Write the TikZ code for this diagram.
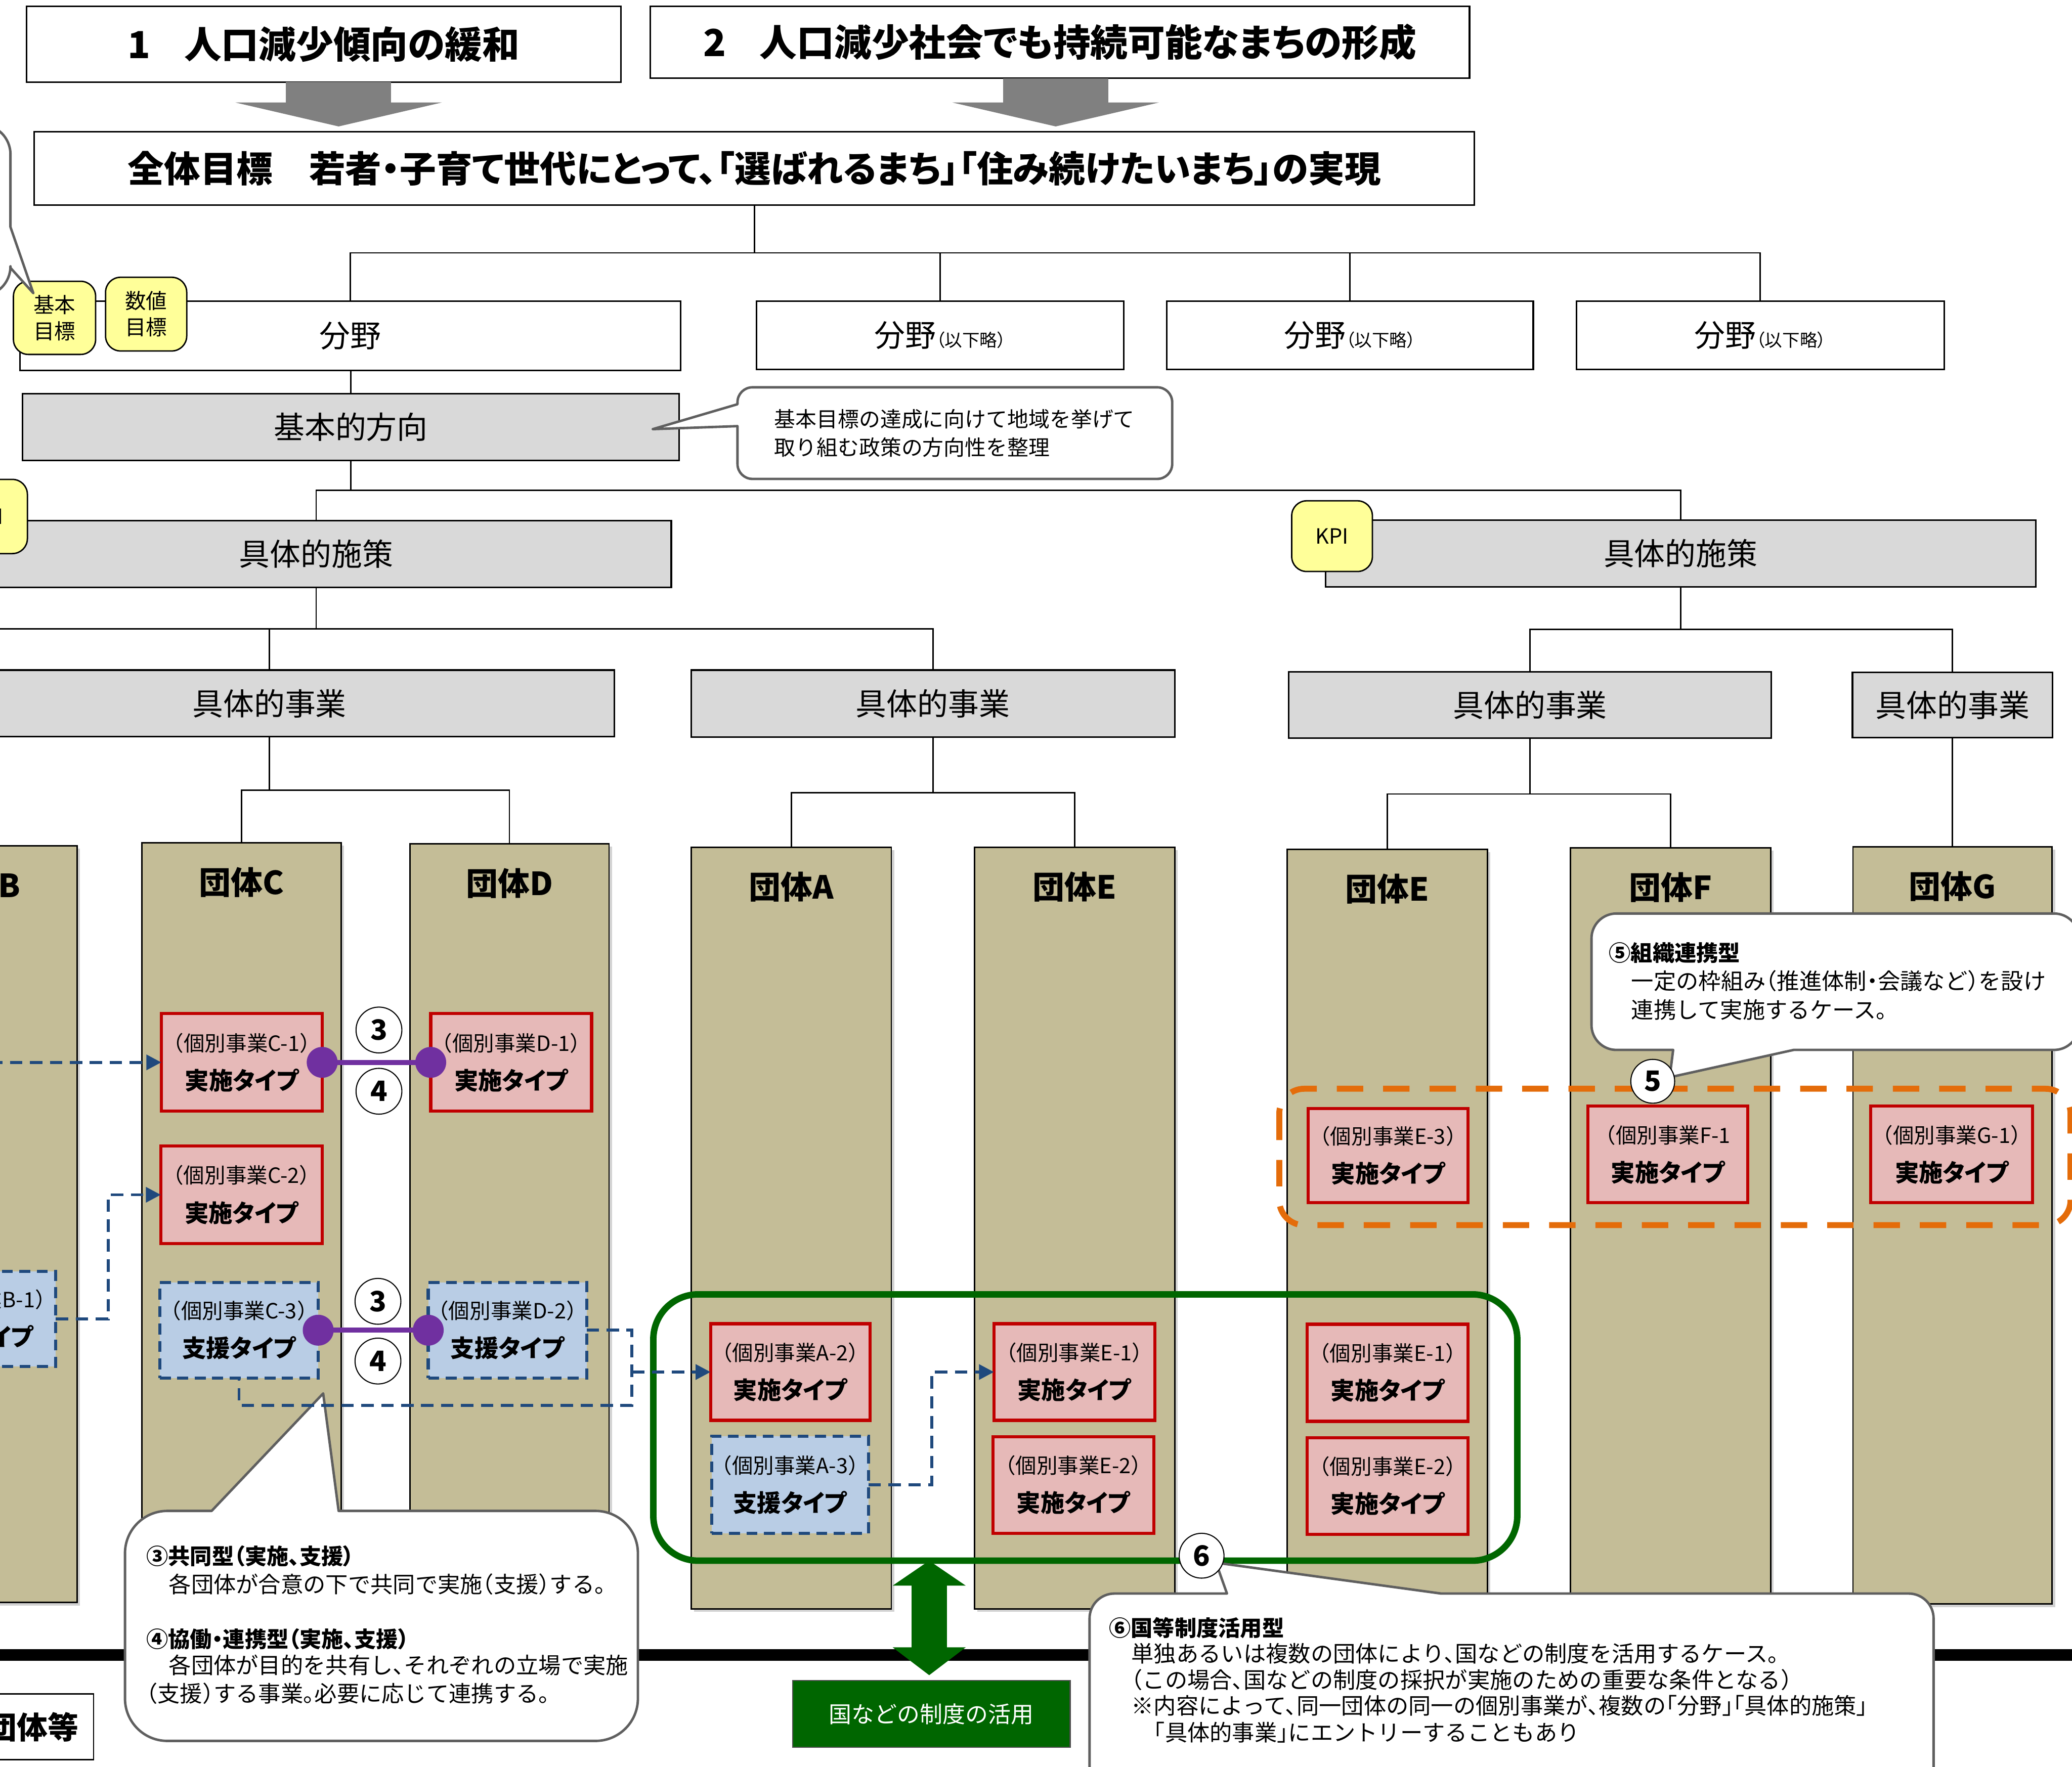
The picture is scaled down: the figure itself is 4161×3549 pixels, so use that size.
\documentclass[tikz,border=0pt]{standalone}
\usepackage{fontspec}
\setmainfont{Noto Sans CJK JP}
\newfontfamily\jpp{Noto Sans CJK JP}[RawFeature=+palt]
\newfontfamily\jph{Noto Sans CJK JP}[RawFeature=+halt]
\usetikzlibrary{arrows.meta,shadows}
\definecolor{tanc}{HTML}{C4BD97}
\definecolor{boxgray}{HTML}{D9D9D9}
\definecolor{tagyel}{HTML}{FFFF99}
\definecolor{pinkf}{HTML}{E6B9B8}
\definecolor{redb}{HTML}{C00000}
\definecolor{bluef}{HTML}{B9CDE5}
\definecolor{navyb}{HTML}{1F497D}
\definecolor{purp}{HTML}{7030A0}
\definecolor{orng}{HTML}{E46C0A}
\definecolor{dgreen}{HTML}{006600}
\definecolor{coline}{HTML}{5F5F5F}
\definecolor{arrgray}{HTML}{808080}
\newcommand{\mybox}[7]{\node[#1, minimum width={((#5)-(#3))*0.01cm}, minimum height={((#6)-(#4))*0.01cm}] (#2) at ({((#3)+(#5))/2},{((#4)+(#6))/2}) {#7};}
\newcommand{\pbody}[2]{{\jph\fontsize{12}{22}\selectfont #1}\\{\jpp\bfseries\fontsize{13.7}{22}\selectfont #2}}
\tikzset{
  every node/.style={inner sep=0pt, outer sep=0pt},
  tline/.style={line width=0.8pt, draw=black},
  titlebox/.style={draw, line width=0.9pt, fill=white, font=\jpp\bfseries\fontsize{21.3}{24}\selectfont},
  whitebox/.style={draw, line width=0.9pt, fill=white, font=\jpp\fontsize{17.6}{20}\selectfont},
  graybox/.style={draw, line width=0.9pt, fill=boxgray, font=\jpp\fontsize{17.6}{20}\selectfont},
  col/.style={draw, line width=0.8pt, fill=tanc, drop shadow={shadow xshift=0.6mm, shadow yshift=-0.6mm, opacity=0.35}},
  coltitle/.style={font=\jpp\bfseries\fontsize{18.2}{20}\selectfont},
  impl/.style={draw=redb, line width=1.8pt, fill=pinkf, align=center, font=\fontsize{12}{22}\selectfont},
  supp/.style={draw=navyb, line width=1.8pt, dash pattern=on 0.22cm off 0.13cm, fill=bluef, align=center, font=\fontsize{12}{22}\selectfont},
  tag/.style={draw, line width=0.8pt, fill=tagyel, rounded corners=0.3cm, align=center, font=\fontsize{12}{15}\selectfont},
  num/.style={circle, draw, line width=0.6pt, fill=white, minimum size=0.92cm, font=\bfseries\fontsize{16}{16}\selectfont},
  bd/.style={draw=navyb, line width=1.7pt, dash pattern=on 0.25cm off 0.15cm},
  btip/.style={-{Triangle[length=0.3cm,width=0.3cm]}},
  pl/.style={draw=purp, line width=2.8pt},
  co/.style={draw=coline, line width=1.4pt, fill=white, line join=round},
  ctext/.style={anchor=west, text height=0.88em, text depth=0.12em, font=\jph\fontsize{12.8}{15}\selectfont},
  chead/.style={anchor=west, text height=0.88em, text depth=0.12em, font=\jpp\bfseries\fontsize{12.5}{15}\selectfont},
}
\begin{document}
\begin{tikzpicture}[x=0.01cm,y=-0.01cm]
\useasboundingbox (0,0) rectangle (4161,3549);
\clip (0,0) rectangle (4161,3549);
\fill[white] (0,0) rectangle (4161,3549);

% ---- top titles
\mybox{titlebox}{t1}{53}{13}{1247}{165}{1\hspace{0.9em}人口減少傾向の緩和}
\mybox{titlebox}{t2}{1306}{13}{2951}{157}{2\hspace{0.9em}人口減少社会でも持続可能なまちの形成}
\mybox{titlebox, font=\jpp\bfseries\fontsize{20.7}{24}\selectfont}{goal}{69}{265}{2961}{412}{全体目標\hspace{1em}若者・子育て世代にとって、「選ばれるまち」「住み続けたいまち」の実現}
\coordinate (a1x) at (680,0);
\coordinate (a2x) at (2120,0);
\draw[arrgray, line width=2.11cm, -{Triangle[length=0.48cm,width=4.13cm]}, shorten >=0.11cm] (t1.south -| a1x) -- (goal.north -| a1x);
\draw[arrgray, line width=2.11cm, -{Triangle[length=0.48cm,width=4.13cm]}, shorten >=0.11cm] (t2.south -| a2x) -- (goal.north -| a2x);

% ---- fields
\mybox{whitebox}{f1}{40}{605}{1367}{744}{分野}
\mybox{whitebox}{f2}{1519}{605}{2257}{742}{分野{\fontsize{10}{12}\selectfont （以下略）}}
\mybox{whitebox}{f3}{2343}{605}{3079}{742}{分野{\fontsize{10}{12}\selectfont （以下略）}}
\mybox{whitebox}{f4}{3166}{605}{3904}{742}{分野{\fontsize{10}{12}\selectfont （以下略）}}
\draw[tline] (goal.south) -- ++(0,96) -| (f1.north);
\draw[tline] (goal.south) -- ++(0,96) -| (f2.north);
\draw[tline] (goal.south) -- ++(0,96) -| (f3.north);
\draw[tline] (goal.south) -- ++(0,96) -| (f4.north);
\mybox{tag}{tg1}{27}{565}{192}{712}{基本\\目標}
\mybox{tag}{tg2}{212}{557}{375}{705}{数値\\目標}

% ---- left balloon (mostly off picture)
\filldraw[co] (21,538) [sharp corners] -- (67,589) -- (21,456) -- (21,400) [rounded corners=0.6cm] -- (21,250) -- (-500,250) -- (-500,595) -- (21,595) [sharp corners] -- cycle;

% ---- basic direction
\mybox{graybox}{kh}{45}{791}{1364}{925}{基本的方向}
\draw[tline] (kh.north) -- (kh.north |- f1.south);
\filldraw[co] (1481,856) [sharp corners] -- (1311,862) -- (1481,812) [rounded corners=0.3cm] -- (1481,778) -- (2354,778) -- (2354,962) -- (1481,962) [sharp corners] -- cycle;
\node[ctext, font=\jph\fontsize{12.1}{15}\selectfont] (bl1) at (1555,845) {基本目標の達成に向けて地域を挙げて};
\node[ctext, font=\jph\fontsize{12.1}{15}\selectfont] (bl2) at (1555,901) {取り組む政策の方向性を整理};

% ---- measures
\mybox{graybox}{s1}{-78}{1046}{1348}{1180}{具体的施策}
\mybox{graybox}{s2}{2662}{1045}{4088}{1179}{具体的施策}
\draw[tline] (kh.south) -- ++(0,60) -| (s1.north);
\draw[tline] (kh.south) -- ++(0,60) -| (s2.north);
\mybox{tag}{k1}{-107}{963}{55}{1112}{KPI}
\mybox{tag}{k2}{2594}{1006}{2756}{1148}{KPI}

% ---- projects
\mybox{graybox}{j1}{-152}{1346}{1234}{1480}{具体的事業}
\mybox{graybox}{j2}{1388}{1346}{2359}{1481}{具体的事業}
\mybox{graybox}{j3}{2588}{1350}{3557}{1483}{具体的事業}
\mybox{graybox}{j4}{3720}{1351}{4122}{1482}{具体的事業}
\coordinate (offl) at (-100,1263);
\draw[tline] (s1.south) -- ++(0,83) -| (j1.north);
\draw[tline] (s1.south) -- ++(0,83) -| (j2.north);
\draw[tline] (s1.south) -- ++(0,83) -- (offl);
\draw[tline] (s2.south) -- ++(0,85) -| (j3.north);
\draw[tline] (s2.south) -- ++(0,85) -| (j4.north);

% ---- organisations
\mybox{col}{cB}{-245}{1699}{155}{3219}{}
\mybox{col}{cC}{285}{1693}{685}{3225}{}
\mybox{col}{cD}{823}{1695}{1223}{3225}{}
\mybox{col}{cA}{1388}{1702}{1790}{3232}{}
\mybox{col}{cE}{1957}{1702}{2359}{3232}{}
\mybox{col}{cE2}{2585}{1706}{2987}{3222}{}
\mybox{col}{cF}{3154}{1703}{3556}{3222}{}
\mybox{col}{cG}{3721}{1701}{4121}{3222}{}
\draw[tline] (j1.south) -- ++(0,107) -| (cC.north);
\draw[tline] (j1.south) -- ++(0,107) -| (cD.north);
\draw[tline] (j2.south) -- ++(0,111) -| (cA.north);
\draw[tline] (j2.south) -- ++(0,111) -| (cE.north);
\draw[tline] (j3.south) -- ++(0,112) -| (cE2.north);
\draw[tline] (j3.south) -- ++(0,112) -| (cF.north);
\draw[tline] (j4.south) -- (cG.north);
\node[coltitle] (tB) at ([yshift=-0.79cm]cB.north) {団体B};
\node[coltitle] (tC) at ([yshift=-0.79cm]cC.north) {団体C};
\node[coltitle] (tD) at ([yshift=-0.79cm]cD.north) {団体D};
\node[coltitle] (tA) at ([yshift=-0.79cm]cA.north) {団体A};
\node[coltitle] (tE) at ([yshift=-0.79cm]cE.north) {団体E};
\node[coltitle] (tE2) at ([yshift=-0.79cm]cE2.north) {団体E};
\node[coltitle] (tF) at ([yshift=-0.79cm]cF.north) {団体F};
\node[coltitle] (tG) at ([yshift=-0.79cm]cG.north) {団体G};

% ---- thick base line
\fill[black] (0,3313) rectangle (4161,3336);

% ---- individual projects
\mybox{impl}{C1}{324}{2036}{647}{2232}{\pbody{（個別事業C-1）}{実施タイプ}}
\mybox{impl}{D1}{865}{2036}{1188}{2232}{\pbody{（個別事業D-1）}{実施タイプ}}
\mybox{impl}{C2}{323}{2302}{647}{2498}{\pbody{（個別事業C-2）}{実施タイプ}}
\mybox{supp}{B1}{-206}{2554}{112}{2745}{\pbody{（個別事業B-1）}{支援タイプ}}
\mybox{supp}{C3}{321}{2576}{639}{2768}{\pbody{（個別事業C-3）}{支援タイプ}}
\mybox{supp}{D2}{860}{2576}{1178}{2768}{\pbody{（個別事業D-2）}{支援タイプ}}
\mybox{impl}{A2}{1427}{2659}{1747}{2853}{\pbody{（個別事業A-2）}{実施タイプ}}
\mybox{supp}{A3}{1429}{2885}{1744}{3080}{\pbody{（個別事業A-3）}{支援タイプ}}
\mybox{impl}{E1a}{1996}{2659}{2319}{2853}{\pbody{（個別事業E-1）}{実施タイプ}}
\mybox{impl}{E2a}{1994}{2886}{2317}{3080}{\pbody{（個別事業E-2）}{実施タイプ}}
\mybox{impl}{E1b}{2625}{2660}{2948}{2855}{\pbody{（個別事業E-1）}{実施タイプ}}
\mybox{impl}{E2b}{2625}{2888}{2948}{3082}{\pbody{（個別事業E-2）}{実施タイプ}}
\mybox{impl}{E3}{2627}{2227}{2948}{2416}{\pbody{（個別事業E-3）}{実施タイプ}}
\mybox{impl}{F1}{3189}{2222}{3510}{2416}{\pbody{（個別事業F-1}{実施タイプ}}
\mybox{impl}{G1}{3757}{2222}{4082}{2416}{\pbody{（個別事業G-1）}{実施タイプ}}

% ---- orange and green groupings
\draw[orng, line width=3.4pt, dash pattern=on 0.53cm off 0.4cm, rounded corners=0.5cm] (2569,2187) rectangle (4158,2461);
\mybox{draw=dgreen, line width=3.7pt, rounded corners=0.9cm}{grp}{1312}{2600}{3047}{3135}{}

% ---- callouts
\filldraw[co] (425,3035) [sharp corners] -- (649,2799) -- (680,3035) [rounded corners=0.85cm] -- (1281,3035) -- (1281,3497) -- (251,3497) -- (251,3035) [sharp corners] -- cycle;
\node[chead] (c34a) at (294,3129) {③共同型（実施、支援）};
\node[ctext] (c34b) at (294,3186) {　各団体が合意の下で共同で実施（支援）する。};
\node[chead] (c34c) at (294,3296) {④協働・連携型（実施、支援）};
\node[ctext] (c34d) at (294,3349) {　各団体が目的を共有し、それぞれの立場で実施};
\node[ctext] (c34e) at (294,3406) {（支援）する事業。必要に応じて連携する。};

\filldraw[co] (3602,2109) [sharp corners] -- (3353,2164) -- (3360,2109) [rounded corners=0.5cm] -- (3196,2109) -- (3196,1835) -- (4175,1835) -- (4175,2109) [sharp corners] -- cycle;
\node[chead] (c5a) at (3231,1917) {⑤組織連携型};
\node[ctext] (c5b) at (3231,1974) {　一定の枠組み（推進体制・会議など）を設け};
\node[ctext] (c5c) at (3231,2032) {　連携して実施するケース。};

\filldraw[co] (2464,3201) [sharp corners] -- (2442,3139) -- (2894,3201) [rounded corners=0.5cm] -- (3883,3201) -- (3883,3650) -- (2188,3650) -- (2188,3201) [sharp corners] -- cycle;
\node[chead] (c6a) at (2227,3273) {⑥国等制度活用型};
\node[ctext] (c6b) at (2227,3325) {　単独あるいは複数の団体により、国などの制度を活用するケース。};
\node[ctext] (c6c) at (2227,3378) {　（この場合、国などの制度の採択が実施のための重要な条件となる）};
\node[ctext] (c6d) at (2227,3430) {　※内容によって、同一団体の同一の個別事業が、複数の「分野」「具体的施策」};
\node[ctext] (c6e) at (2227,3484) {　　「具体的事業」にエントリーすることもあり};

% ---- dashed support links
\coordinate (lb) at (-20,2134);
\draw[bd, btip] (lb) -- (C1.west);
\draw[bd, btip] (B1.east) -- ++(105,0) |- (C2.west);
\draw[bd] (D2.east) -- ++(91,0) coordinate (jx) -- ++(0,151) -| (C3.south);
\draw[bd, btip] (jx |- A2.west) -- (A2.west);
\draw[bd, btip] (A3.east) -- ++(127,0) |- (E1a.west);

% ---- purple cooperation links
\draw[pl] (C1.east) -- (D1.west);
\draw[pl] (C3.east) -- (D2.west);
\fill[purp] (C1.east) circle (0.31cm) (D1.west) circle (0.31cm) (C3.east) circle (0.31cm) (D2.west) circle (0.31cm);

% ---- numbers
\node[num] (n3a) at (761,2069) {3};
\node[num] (n4a) at (761,2192) {4};
\node[num] (n3b) at (759,2614) {3};
\node[num] (n4b) at (759,2734) {4};
\node[num, minimum size=0.88cm] (n5) at (3319,2172) {5};
\node[num, minimum size=0.9cm] (n6) at (2413,3125) {6};

% ---- national system
\mybox{draw=black!70, line width=0.6pt, fill=dgreen, text=white, font=\fontsize{13}{15}\selectfont}{kuni}{1592}{3376}{2149}{3510}{国などの制度の活用}
\coordinate (gx) at (1866,0);
\draw[dgreen, line width=0.71cm, {Triangle[length=0.5cm,width=1.44cm]}-{Triangle[length=0.56cm,width=1.44cm]}, shorten >=0.11cm] (grp.south -| gx) -- (kuni.north -| gx);

% ---- bottom-left label
\mybox{draw, line width=0.8pt, fill=white, font=\jpp\bfseries\fontsize{17.6}{20}\selectfont}{tdt}{-58}{3403}{188}{3535}{団体等}
\end{tikzpicture}
\end{document}
